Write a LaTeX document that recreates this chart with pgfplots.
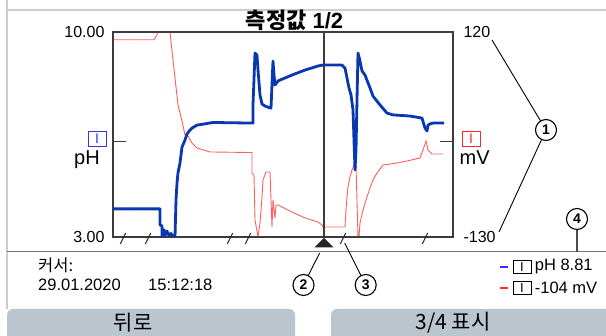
\documentclass[border=0pt]{standalone}
\usepackage{pgfplots}
\usepackage{pgfplotstable}
\pgfplotsset{compat=1.18}
\usepackage{fontspec}
\setmainfont{Liberation Sans}
\newfontfamily\kr{Noto Sans CJK KR}
\definecolor{phblue}{RGB}{8,55,175}
\definecolor{mvred}{RGB}{255,95,95}
\definecolor{boxblue}{RGB}{50,50,255}
\definecolor{boxred}{RGB}{255,40,40}
\definecolor{btn}{RGB}{187,197,206}
\definecolor{framegray}{RGB}{205,205,205}
\definecolor{axgray}{RGB}{60,60,60}
\pgfplotstableread{
x ph
0 3.96
47 3.96
47 3.41
49 3.38
49 3.03
51 3.25
52 3.05
54 3.20
56 3.05
58 3.12
60 3.02
62 3.00
63 4.26
64 4.84
65 5.19
67 5.53
69 6.07
72 6.31
74 6.52
77 6.65
79 6.72
84 6.82
100 6.91
140 6.89
140 7.51
142 9.28
144 9.21
145 8.70
147 7.85
149 7.54
152 7.47
158 7.40
160 9.01
161 8.53
162 8.19
165 8.33
179 8.53
192 8.70
205 8.84
210 8.87
229 8.87
232 8.77
234 8.43
236 8.09
238 7.85
240 7.34
241 6.31
242 5.29
243 5.97
244 7.68
245 9.28
247 9.01
249 8.67
252 8.53
257 8.09
260 7.81
267 7.51
274 7.23
280 7.17
297 7.13
309 7.06
312 6.72
314 6.62
315 6.82
317 6.86
320 6.89
331 6.89
}\phdata
\pgfplotstableread{
x mv
0 110.6
41 110.6
44 116.3
45 128
56 128
57 120
59 96.8
62 63.9
65 31
69 11.5
72 -5.6
75 -6.8
79 -15.4
84 -21.5
97 -26.3
139 -27
139 -52
141 -54.4
142 -109.3
145 -130
147 -112.9
149 -81.2
150 -60.5
153 -50.7
157 -50.7
159 -117.8
160 -84.9
162 -106.8
163 -91
165 -91
179 -99.5
192 -106.8
205 -111.7
209 -115.4
210 -117.8
232 -117.8
233 -97
234 -81.2
235 -69
237 -56.8
239 -48.3
241 -42
243 -42
245 -130
246 -130
247 -112.9
250 -97
254 -81.2
257 -70.2
260 -60.5
264 -52
270 -42.2
284 -39.8
294 -37.3
307 -33.7
310 -23.9
313 -12.9
315 -23.9
319 -28.8
330 -28.8
}\mvdata
\begin{document}
\begin{tikzpicture}[x=1pt,y=1pt]
\useasboundingbox (0pt,0pt) rectangle (606pt,336pt);
\clip (0pt,0pt) rectangle (606pt,336pt);
\fill[white] (0,0) rectangle (606,336);
% frame
\draw[framegray, line width=1.2pt] (7,340) -- (7,326) -- (610,326);
\draw[framegray, line width=1.2pt] (7,326) -- (7,27);
\draw[black!55, line width=1.2pt] (7,84.3) -- (610,84.3);
% title
\node[font={\bfseries\fontsize{22}{24}\selectfont}] at (294.5,316) {{\kr\bfseries 측정값} 1/2};
\pgfplotsset{common/.style={
  at={(113pt,99pt)}, anchor=south west, scale only axis,
  width=340pt, height=205pt, xmin=0, xmax=340, xtick=\empty,
  tick align=inside, major tick length=13pt,
  ytick style={line width=1.1pt, color=axgray},
  axis line style={line width=1.3pt, color=axgray},
  ticklabel style={font=\fontsize{16}{18}\selectfont},
  /pgf/number format/assume math mode=true}}
\begin{axis}[common, axis y line*=right, axis x line=none,
  ymin=-130, ymax=120, ytick={-130,-13.8,120}, yticklabels={-130,,120},
  yticklabel style={anchor=west, xshift=7pt}]
\addplot[mvred, line width=0.9pt] table[x=x, y=mv] {\mvdata};
\end{axis}
\begin{axis}[common, ymin=3, ymax=10, ytick={3,6.25,10},
  yticklabels={3.00,,10.00}, ytick pos=left,
  yticklabel style={anchor=east, xshift=-5pt}]
\addplot[phblue, line width=2.8pt, line join=round] table[x=x, y=ph] {\phdata};
\addplot[axgray, line width=1.2pt] coordinates {(211,3) (211,10)};
\end{axis}
% cursor triangle
\fill[black!85] (324,98) -- (333.5,88.5) -- (314.5,88.5) -- cycle;
% break marks
\foreach \bx in {123,148,230,248,343,425}
  \draw[black!85, line width=1pt] (\bx-2.7,92) -- (\bx+2.7,103);
% axis boxes
\node[draw=boxblue, text=boxblue, line width=0.9pt, minimum width=18pt, minimum height=15pt, inner sep=0pt, font=\fontsize{14}{16}\selectfont] at (97,197.5) {I};
\node[draw=boxred, text=boxred, line width=0.9pt, minimum width=18pt, minimum height=15pt, inner sep=0pt, font=\fontsize{14}{16}\selectfont] at (471,197.5) {I};
\node[anchor=base east, inner sep=0pt, font=\fontsize{20}{22}\selectfont] at (100,171) {pH};
\node[anchor=base west, inner sep=0pt, font=\fontsize{20}{22}\selectfont] at (459.5,171) {mV};
% callouts
\tikzset{callout/.style={circle, draw=black, line width=1.1pt, minimum size=21pt, inner sep=0pt, fill=white, font=\bfseries\fontsize{14}{16}\selectfont}}
\draw[black, line width=0.9pt] (492,296) -- (540.6,215);
\draw[black, line width=0.9pt] (499,104) -- (541.6,196.5);
\node[callout] at (546,206) {1};
\draw[black, line width=0.9pt] (308.2,60.4) -- (319.7,83);
\node[callout] at (303.5,51) {2};
\draw[black, line width=0.9pt] (361,60.4) -- (344.7,93);
\node[callout] at (365.7,51) {3};
\draw[black!70, line width=1.2pt] (577,106.5) -- (577,84.3);
\node[callout] at (577,117) {4};
% cursor info
\node[anchor=west, inner sep=0pt, font={\kr\fontsize{16.5}{18}\selectfont}] at (38,71) {커서:};
\node[anchor=west, inner sep=0pt, font=\fontsize{16.5}{18}\selectfont] at (38,51) {29.01.2020};
\node[anchor=west, inner sep=0pt, font=\fontsize{16.5}{18}\selectfont] at (148,51) {15:12:18};
% legend
\draw[boxblue, line width=2pt] (500,69.3) -- (508,69.3);
\node[draw=black, line width=0.8pt, minimum width=18pt, minimum height=13.5pt, inner sep=0pt, font=\fontsize{13}{15}\selectfont] at (522,69.3) {I};
\node[anchor=west, inner sep=0pt, font=\fontsize{16.5}{18}\selectfont] at (534.7,69.3) {pH 8.81};
\draw[boxred, line width=2pt] (500,48) -- (508,48);
\node[draw=black, line width=0.8pt, minimum width=18pt, minimum height=13.5pt, inner sep=0pt, font=\fontsize{13}{15}\selectfont] at (522,48) {I};
\node[anchor=west, inner sep=0pt, font=\fontsize{16.5}{18}\selectfont] at (534.7,48) {-104 mV};
% buttons
\fill[btn, rounded corners=6pt] (7,-10) rectangle (295,27);
\fill[btn, rounded corners=6pt] (331,-10) rectangle (620,27);
\node[font={\kr\fontsize{21}{24}\selectfont}] at (133,13) {뒤로};
\node[font={\kr\fontsize{21}{24}\selectfont}] at (453,13) {3/4 표시};
\end{tikzpicture}
\end{document}
